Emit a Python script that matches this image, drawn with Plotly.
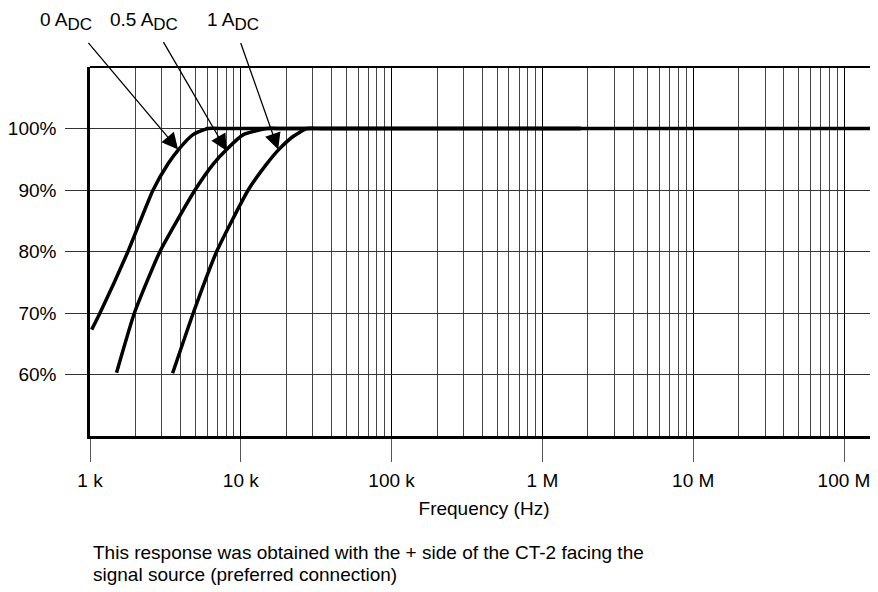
import plotly.graph_objects as go
import numpy as np

# ---- data ----
freq_0a = [1.026e3, 1.165e3, 1.786e3, 2.62e3, 3.30e3, 3.84e3, 4.82e3, 6.05e3, 8.0e3, 1.8e6]
resp_0a = [67.3, 70, 80, 90, 94.3, 96.5, 99, 100, 100, 100]

freq_05a = [1.50e3, 1.97e3, 2.91e3, 4.97e3, 6.6e3, 8.05e3, 10.4e3, 14.9e3, 19e3, 1.8e6]
resp_05a = [60.3, 70, 80, 90, 94.3, 96.6, 99, 100, 100, 100]

freq_1a = [3.53e3, 4.84e3, 6.92e3, 11.2e3, 14.6e3, 17.9e3, 22.2e3, 27.4e3, 34e3, 1.7e8]
resp_1a = [60.2, 70, 80, 90, 94.0, 96.6, 98.7, 100, 100, 100]

series_labels = ["0 A", "0.5 A", "1 A"]
label_sub = "DC"
arrow_freq = [3.84e3, 8.05e3, 17.7e3]
arrow_resp = [96.6, 96.4, 96.6]

x_tickvals = [1e3, 1e4, 1e5, 1e6, 1e7, 1e8]
x_ticktext = ["1 k", "10 k", "100 k", "1 M", "10 M", "100 M"]
x_minorvals = [m * 10 ** d for d in range(3, 9) for m in range(2, 10)]
y_tickvals = [60, 70, 80, 90, 100]
y_ticktext = ["60%", "70%", "80%", "90%", "100%"]

x_title = "Frequency (Hz)"
note_lines = ["This response was obtained with the + side of the CT-2 facing the",
              "signal source (preferred connection)"]

# ---- layout geometry (pixels, page has an 8px body margin) ----
OFF = 8
W, H = 878 - OFF, 592 - OFF
L, R, T, B = 90 - OFF, 0, 67 - OFF, 156
PW, PH = W - L - R, H - T - B

def px_to_paper_x(px):          # px in viewport coordinates
    return (px - OFF - L) / PW

def py_to_paper_y(py):
    return (H - B - (py - OFF)) / PH

FONT = "Liberation Sans, Arial, sans-serif"

fig = go.Figure()
for fx, ry in [(freq_0a, resp_0a), (freq_05a, resp_05a), (freq_1a, resp_1a)]:
    fig.add_trace(go.Scatter(x=fx, y=ry, mode="lines",
                             line=dict(color="black", width=3.5, shape="spline", smoothing=0.5),
                             hoverinfo="skip", showlegend=False))

annotations = []
# arrows
arrow_offsets = [(-91, -108), (-64, -110), (-38, -108)]
for f, r, (ax, ay) in zip(arrow_freq, arrow_resp, arrow_offsets):
    annotations.append(dict(x=np.log10(f), y=r, xref="x", yref="y", text="",
                            showarrow=True, ax=ax, ay=ay, arrowhead=2,
                            arrowsize=2.5, arrowwidth=1.3, arrowcolor="black"))
# series labels
label_px = [66, 144, 233]
for lab, cx in zip(series_labels, label_px):
    annotations.append(dict(x=px_to_paper_x(cx), y=py_to_paper_y(22), xref="paper", yref="paper",
                            text=lab + "<sub><span style='font-size:17px'>" + label_sub + "</span></sub>",
                            showarrow=False, xanchor="center", yanchor="middle",
                            font=dict(family=FONT, size=19, color="black")))
# footnote
for line, cy in zip(note_lines, [552, 574]):
    annotations.append(dict(x=px_to_paper_x(91), y=py_to_paper_y(cy), xref="paper", yref="paper",
                            text=line, showarrow=False, xanchor="left", yanchor="middle",
                            font=dict(family=FONT, size=19, color="black")))

fig.update_layout(
    width=W, height=H,
    margin=dict(l=L, r=R, t=T, b=B, pad=0),
    paper_bgcolor="white", plot_bgcolor="white",
    font=dict(family=FONT, size=19, color="black"),
    annotations=annotations,
    shapes=[dict(type="line", xref="paper", yref="paper", x0=0, x1=1, y0=1, y1=1,
                 line=dict(color="black", width=2), layer="above")],
    xaxis=dict(type="log", range=[3, 3 + PW / 150.8],
               tickmode="array", tickvals=x_tickvals, ticktext=x_ticktext,
               ticks="outside", ticklen=23, tickwidth=1, tickcolor="#555",
               showgrid=True, gridcolor="black", gridwidth=1,
               showline=True, linecolor="black", linewidth=2.5,
               minor=dict(tickmode="array", tickvals=x_minorvals, showgrid=True,
                          gridcolor="#444", gridwidth=1, ticks=""),
               zeroline=False, ticklabelstandoff=2,
               title=dict(text=x_title, standoff=13, font=dict(family=FONT, size=19)),
               tickfont=dict(family=FONT, size=19)),
    yaxis=dict(range=[50, 110],
               tickmode="array", tickvals=y_tickvals, ticktext=y_ticktext,
               ticks="outside", ticklen=22, tickwidth=1, tickcolor="#333",
               showgrid=True, gridcolor="#333", gridwidth=1,
               showline=True, linecolor="black", linewidth=2.5,
               zeroline=False, ticklabelstandoff=5,
               tickfont=dict(family=FONT, size=19)),
)

fig.write_html("out.html")
